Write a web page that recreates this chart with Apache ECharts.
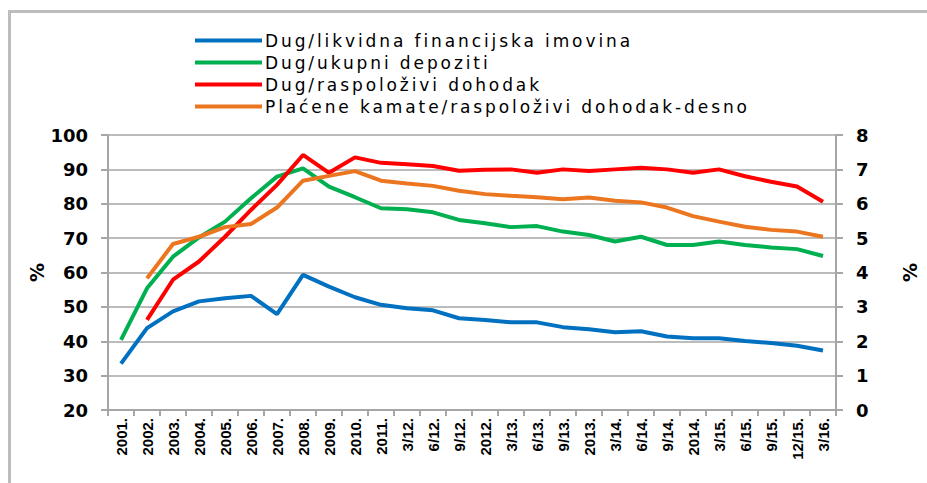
<!DOCTYPE html>
<html>
<head>
    <meta charset="utf-8">
    <title>Dug</title>
    <script src="https://cdn.jsdelivr.net/npm/echarts@6/dist/echarts.min.js"></script>
    <style>
        html, body { margin: 0; padding: 0; background: #fff; }
        #wrap { position: relative; width: 927px; height: 483px; }
        /* okvir slike gore i lijevo */
        #frame { position: absolute; left: 8px; top: 10px; right: 0; bottom: 0;
                 border-top: 3px solid #bdbdbd; border-left: 3px solid #bdbdbd; }
        #main { position: absolute; left: 0; top: 0; }
        /* razvučen tekst legende kao u originalu */
        #main text[style*="lgd"] { letter-spacing: 2.9px; }
    </style>
</head>
<body>
<div id="wrap">
    <div id="frame"></div>
    <div id="main" style="width: 927px;height:483px;"></div>
</div>
<script type="text/javascript">
    // kategorije (razdoblja)
    var periods = ['2001.', '2002.', '2003.', '2004.', '2005.', '2006.', '2007.', '2008.', '2009.', '2010.', '2011.',
        '3/12.', '6/12.', '9/12.', '2012.', '3/13.', '6/13.', '9/13.', '2013.', '3/14.', '6/14.', '9/14.', '2014.',
        '3/15.', '6/15.', '9/15.', '12/15.', '3/16.'];

    // lijeva os, %
    var dugImovina = [33.5, 43.8, 48.7, 51.6, 52.5, 53.2, 47.9, 59.3, 55.9, 52.8, 50.6, 49.6, 49.0, 46.7,
        46.2, 45.5, 45.5, 44.1, 43.5, 42.6, 42.9, 41.4, 40.9, 40.9, 40.1, 39.5, 38.7, 37.3];
    var dugDepoziti = [40.4, 55.4, 64.6, 70.2, 74.8, 81.6, 87.9, 90.3, 85.0, 81.9, 78.7, 78.4, 77.5, 75.3,
        74.3, 73.2, 73.5, 71.9, 70.9, 69.0, 70.4, 68.0, 68.0, 69.0, 68.0, 67.3, 66.8, 64.8];
    var dugDohodak = [null, 46.2, 57.9, 63.2, 70.4, 78.2, 85.5, 94.2, 89.0, 93.5, 91.9, 91.5, 91.0, 89.6,
        89.9, 90.0, 89.0, 90.0, 89.5, 90.0, 90.5, 90.0, 89.0, 90.0, 88.0, 86.4, 85.0, 80.6];
    // desna os
    var kamate = [null, 3.83, 4.83, 5.04, 5.32, 5.41, 5.89, 6.67, 6.81, 6.95, 6.67, 6.59, 6.52, 6.38,
        6.28, 6.23, 6.19, 6.13, 6.18, 6.09, 6.04, 5.89, 5.64, 5.48, 5.33, 5.24, 5.19, 5.04];

    var myChart = echarts.init(document.getElementById('main'), null, { renderer: 'svg' });

    var font = 'Liberation Sans, Arial, sans-serif';
    var wide = 'DejaVu Sans, sans-serif';
    var gridColor = '#a6a6a6';

    function yAxis(min, max, interval, right) {
        return {
            type: 'value',
            min: min,
            max: max,
            interval: interval,
            position: right ? 'right' : 'left',
            name: '%',
            nameLocation: 'middle',
            nameGap: right ? 64 : 62,
            nameMoveOverlap: false,
            nameRotate: 90,
            nameTextStyle: { color: '#000', fontSize: 19, fontFamily: wide, fontWeight: 'bold' },
            axisLine: { show: true, lineStyle: { color: gridColor, width: 2 } },
            axisTick: { show: true, inside: false, length: 7, lineStyle: { color: gridColor, width: 2 } },
            axisLabel: { color: '#000', fontSize: 18, fontFamily: wide, fontWeight: 'bold', margin: 20 },
            splitLine: { show: !right, lineStyle: { color: gridColor, width: 1.5 } }
        };
    }

    function line(name, data, color, axisIndex) {
        return {
            name: name,
            type: 'line',
            yAxisIndex: axisIndex,
            data: data,
            showSymbol: false,
            symbol: 'none',
            lineStyle: { color: color, width: 4 },
            itemStyle: { color: color },
            animation: false
        };
    }

    var option = {
        animation: false,
        legend: {
            orient: 'vertical',
            left: 190,
            top: 27,
            itemWidth: 67,
            itemHeight: 4,
            itemGap: 5,
            icon: 'rect',
            textStyle: { color: '#000', fontSize: 17, fontFamily: 'DejaVu Sans, lgd, sans-serif', padding: [0, 0, 0, -2] },
            data: ['Dug/likvidna financijska imovina', 'Dug/ukupni depoziti', 'Dug/raspoloživi dohodak',
                'Plaćene kamate/raspoloživi dohodak-desno']
        },
        grid: { left: 108, right: 75, top: 135, bottom: 73 },
        xAxis: {
            type: 'category',
            data: periods,
            boundaryGap: true,
            axisLine: { lineStyle: { color: gridColor, width: 2 } },
            axisTick: { show: true, interval: 0, length: 6, lineStyle: { color: gridColor, width: 2 } },
            axisLabel: { interval: 0, rotate: 90, color: '#000', fontSize: 15, fontFamily: font, fontWeight: 'bold', margin: 8 }
        },
        yAxis: [yAxis(20, 100, 10, false), yAxis(0, 8, 1, true)],
        series: [
            line('Dug/likvidna financijska imovina', dugImovina, '#0070c0', 0),
            line('Dug/ukupni depoziti', dugDepoziti, '#00b050', 0),
            line('Dug/raspoloživi dohodak', dugDohodak, '#ff0000', 0),
            line('Plaćene kamate/raspoloživi dohodak-desno', kamate, '#ec7620', 1)
        ]
    };

    myChart.setOption(option);
</script>
</body>
</html>
